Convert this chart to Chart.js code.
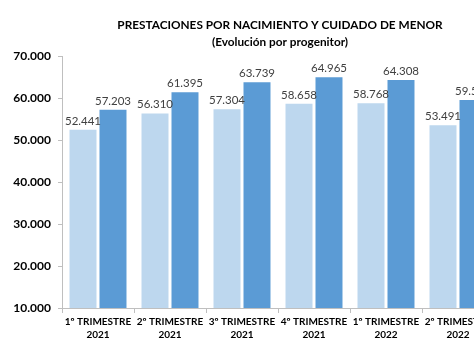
<!DOCTYPE html>
<html>
<head>
<meta charset="utf-8">
<script src="https://cdn.jsdelivr.net/npm/chart.js@4.4.1/dist/chart.umd.min.js"></script>
<style>
html,body{margin:0;padding:0;background:#fff;overflow:hidden;width:474px;height:355px;}
#wrap{position:absolute;left:0;top:0;width:500px;height:355px;}
</style>
</head>
<body>
<div id="wrap"><canvas id="c" width="500" height="355"></canvas></div>
<script>
const categories = [
  ["1º TRIMESTRE","2021"],
  ["2º TRIMESTRE","2021"],
  ["3º TRIMESTRE","2021"],
  ["4º TRIMESTRE","2021"],
  ["1º TRIMESTRE","2022"],
  ["2º TRIMESTRE","2022"]
];
const seriesLight = [52441, 56310, 57304, 58658, 58768, 53491];
const seriesDark  = [57203, 61395, 63739, 64965, 64308, 59524];
const titleLines = ["PRESTACIONES POR NACIMIENTO Y CUIDADO DE MENOR", "(Evolución por progenitor)"];

function fmt(v){ return String(Math.round(v)).replace(/\B(?=(\d{3})+(?!\d))/g, "."); }

const FONT = "Lato, 'Open Sans', sans-serif";

const labelPlugin = {
  id: 'barLabels',
  afterDatasetsDraw(chart){
    const ctx = chart.ctx;
    ctx.save();
    ctx.font = "11.5px " + FONT;
    ctx.fillStyle = "#404040";
    ctx.textAlign = "center";
    ctx.textBaseline = "alphabetic";
    chart.data.datasets.forEach((ds, i) => {
      const meta = chart.getDatasetMeta(i);
      meta.data.forEach((bar, j) => {
        ctx.fillText(fmt(ds.data[j]), bar.x, bar.y - 5);
      });
    });
    ctx.restore();
  }
};

const titlePlugin = {
  id: 'customTitle',
  afterDraw(chart){
    const ctx = chart.ctx;
    ctx.save();
    ctx.font = "bold 11.8px " + FONT;
    ctx.fillStyle = "#000";
    ctx.textAlign = "center";
    ctx.textBaseline = "middle";
    ctx.fillText(titleLines[0], 280, 25);
    ctx.fillText(titleLines[1], 280, 42);
    ctx.restore();
  }
};

new Chart(document.getElementById('c'), {
  type: 'bar',
  data: {
    labels: categories,
    datasets: [
      { data: seriesLight, backgroundColor: '#BDD7EE', categoryPercentage: 0.833, barPercentage: 0.9 },
      { data: seriesDark,  backgroundColor: '#5B9BD5', categoryPercentage: 0.833, barPercentage: 0.9 }
    ]
  },
  options: {
    responsive: false,
    animation: false,
    devicePixelRatio: 1,
    layout: { padding: { top: 56, right: 6, bottom: 0, left: 0 } },
    plugins: { legend: { display: false }, tooltip: { enabled: false }, title: { display: false } },
    scales: {
      y: {
        min: 10000, max: 70000,
        afterFit(s){ s.width = 62; },
        ticks: { stepSize: 10000, callback: v => fmt(v), color: '#000', font: { family: FONT, size: 12, weight: 'bold' }, padding: 7 },
        grid: { display: true, drawOnChartArea: false, tickLength: 4, color: '#BFBFBF' },
        border: { display: true, color: '#BFBFBF' }
      },
      x: {
        afterFit(s){ s.height = 47; },
        ticks: { color: '#000', font: { family: FONT, size: 10, weight: 'bold', lineHeight: 1.35 }, padding: 2, maxRotation: 0, autoSkip: false },
        grid: { display: true, drawOnChartArea: false, tickLength: 5, color: '#BFBFBF', offset: true },
        border: { display: true, color: '#BFBFBF' }
      }
    }
  },
  plugins: [labelPlugin, titlePlugin]
});
</script>
</body>
</html>
